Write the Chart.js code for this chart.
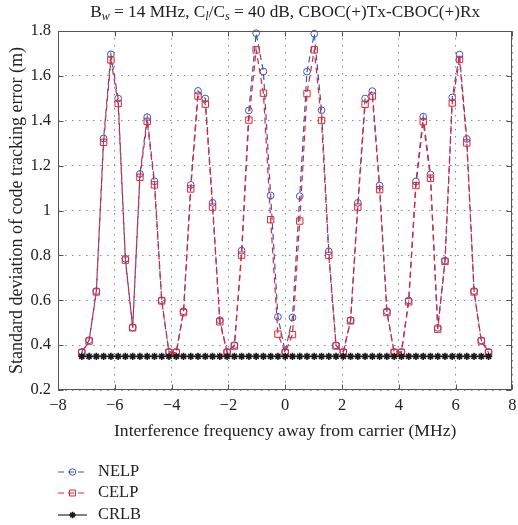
<!DOCTYPE html>
<html>
<head>
<meta charset="utf-8">
<script src="https://cdn.jsdelivr.net/npm/chart.js@4.4.0/dist/chart.umd.min.js"></script>
<style>
html,body{margin:0;padding:0;background:#fff}
</style>
</head>
<body>
<canvas id="chart" width="518" height="525"></canvas>
<script>

/* DATA */

const freqMHz=[-7.161,-6.905,-6.650,-6.394,-6.138,-5.882,-5.627,-5.371,-5.115,-4.859,-4.604,-4.348,-4.092,-3.836,-3.581,-3.325,-3.069,-2.813,-2.558,-2.302,-2.046,-1.790,-1.535,-1.279,-1.023,-0.767,-0.512,-0.256,0,
0.256,0.512,0.767,1.023,1.279,1.535,1.790,2.046,2.302,2.558,2.813,3.069,3.325,3.581,3.836,4.092,4.348,4.604,4.859,5.115,5.371,5.627,5.882,6.138,6.394,6.650,6.905,7.161]

const nelp=[0.370,0.422,0.641,1.321,1.696,1.499,0.785,0.479,1.163,1.416,1.130,0.600,0.370,0.370,0.551,1.114,1.533,1.499,1.034,0.511,0.370,0.400,0.821,1.446,1.790,1.619,1.067,0.526,0.370,
0.523,1.064,1.619,1.788,1.447,0.818,0.399,0.370,0.511,1.034,1.499,1.532,1.111,0.551,0.370,0.370,0.599,1.129,1.418,1.161,0.477,0.776,1.504,1.695,1.319,0.641,0.421,0.370]

const celp=[0.366,0.418,0.637,1.304,1.671,1.477,0.779,0.477,1.148,1.397,1.114,0.597,0.367,0.367,0.545,1.096,1.510,1.474,1.015,0.504,0.367,0.396,0.801,1.403,1.716,1.523,0.959,0.449,0.366,
0.447,0.953,1.521,1.716,1.401,0.800,0.396,0.367,0.508,1.015,1.473,1.510,1.093,0.545,0.367,0.367,0.593,1.111,1.396,1.144,0.471,0.773,1.479,1.673,1.301,0.637,0.418,0.366]

const crlb=[0.35,0.35,0.35,0.35,0.35,0.35,0.35,0.35,0.35,0.35,0.35,0.35,0.35,0.35,0.35,0.35,0.35,0.35,0.35,0.35,0.35,0.35,0.35,0.35,0.35,0.35,0.35,0.35,0.35,
0.35,0.35,0.35,0.35,0.35,0.35,0.35,0.35,0.35,0.35,0.35,0.35,0.35,0.35,0.35,0.35,0.35,0.35,0.35,0.35,0.35,0.35,0.35,0.35,0.35,0.35,0.35,0.35]

const xTicks=[-8,-6,-4,-2,0,2,4,6,8]
const yTicks=[0.2,0.4,0.6,0.8,1,1.2,1.4,1.6,1.8]
const yLabels=["0.2","0.4","0.6","0.8","1","1.2","1.4","1.6","1.8"]

const seriesNames=["NELP","CELP","CRLB"]

const FONT="'Liberation Serif','DejaVu Serif',serif"
const TXT="#222"

function pts(vals){
return freqMHz.map((f,i)=>({x:f,y:vals[i]}))
}


/* TITLE with subscripts */

const titlePlugin={
id:"titleSub",
afterDraw(chart){
const ctx=chart.ctx
const a=chart.chartArea
const parts=[
{t:"B"},{t:"w",sub:true},{t:" = 14 MHz, C"},{t:"l",sub:true},{t:"/C"},{t:"s",sub:true},
{t:" = 40 dB, CBOC(+)Tx-CBOC(+)Rx"}
]
ctx.save()
ctx.fillStyle=TXT
ctx.textBaseline="alphabetic"
let w=0
parts.forEach(p=>{
ctx.font=p.sub?"italic 12px "+FONT:"17.3px "+FONT
p.w=ctx.measureText(p.t).width
w+=p.w
})
let x=(a.left+a.right)/2-w/2
const base=17
parts.forEach(p=>{
ctx.font=p.sub?"italic 12px "+FONT:"17.3px "+FONT
ctx.fillText(p.t,x,p.sub?base+3:base)
x+=p.w
})
ctx.restore()
}
}


/* FRAME + inward ticks */

const framePlugin={
id:"frame",
afterDatasetsDraw(chart){
const ctx=chart.ctx
const a=chart.chartArea
const sx=chart.scales.x
const sy=chart.scales.y
ctx.save()
ctx.strokeStyle="#555"
ctx.lineWidth=1
const l=Math.round(a.left)+0.5, r=Math.round(a.right)-0.5
const t=Math.round(a.top)+0.5, b=Math.round(a.bottom)-0.5
ctx.strokeRect(l,t,r-l,b-t)
ctx.beginPath()
xTicks.forEach(v=>{
const px=Math.round(sx.getPixelForValue(v))+0.5
ctx.moveTo(px,b);ctx.lineTo(px,b-5)
ctx.moveTo(px,t);ctx.lineTo(px,t+5)
})
yTicks.forEach(v=>{
const py=Math.round(sy.getPixelForValue(v))+0.5
ctx.moveTo(l,py);ctx.lineTo(l+5,py)
ctx.moveTo(r,py);ctx.lineTo(r-5,py)
})
ctx.stroke()
ctx.restore()
}
}


/* LEGEND (vertical, bottom left) */

function marker(ctx,style,x,y,r){
ctx.beginPath()
if(style==="circle"){
ctx.arc(x,y,r,0,Math.PI*2)
}else if(style==="rect"){
const s=r*Math.SQRT1_2
ctx.rect(x-s,y-s,2*s,2*s)
}else{
for(let k=0;k<4;k++){
const ang=k*Math.PI/4
ctx.moveTo(x-Math.cos(ang)*r,y-Math.sin(ang)*r)
ctx.lineTo(x+Math.cos(ang)*r,y+Math.sin(ang)*r)
}
}
ctx.stroke()
}

const legendPlugin={
id:"legendList",
afterDraw(chart){
const ctx=chart.ctx
const rows=[472,493,515]
ctx.save()
chart.data.datasets.forEach((ds,i)=>{
const y=rows[i]
ctx.strokeStyle=ds.borderColor
ctx.lineWidth=1.1
ctx.setLineDash(ds.borderDash||[])
ctx.beginPath()
ctx.moveTo(58,y);ctx.lineTo(87,y)
ctx.stroke()
ctx.setLineDash([])
ctx.lineWidth=ds.pointBorderWidth
marker(ctx,ds.pointStyle,72.5,y,ds.pointStyle==="rect"?4.2:3.2)
ctx.fillStyle=TXT
ctx.font="16.5px "+FONT
ctx.textBaseline="middle"
ctx.fillText(ds.label,98,y)
})
ctx.restore()
}
}


/* CHART */

const ctx=document.getElementById("chart").getContext("2d")

new Chart(ctx,{
type:"line",
data:{
datasets:[
{
label:seriesNames[0],
data:pts(nelp),
borderColor:"#3c55c0",
backgroundColor:"rgba(0,0,0,0)",
borderWidth:1.2,
borderDash:[6,4],
pointStyle:"circle",
pointRadius:3.4,
pointBorderWidth:1,
pointBackgroundColor:"rgba(0,0,0,0)",
tension:0,
clip:false,
order:2
},
{
label:seriesNames[1],
data:pts(celp),
borderColor:"#e8242c",
backgroundColor:"rgba(0,0,0,0)",
borderWidth:1.2,
borderDash:[6,4],
borderDashOffset:5,
pointStyle:"rect",
pointRadius:4.5,
pointBorderWidth:1,
pointBackgroundColor:"rgba(0,0,0,0)",
tension:0,
clip:false,
order:1
},
{
label:seriesNames[2],
data:pts(crlb),
borderColor:"#1a1a1a",
backgroundColor:"#1a1a1a",
borderWidth:1.3,
pointStyle:"star",
pointRadius:3.6,
pointBorderWidth:1.6,
tension:0,
clip:false,
order:0
}
]
},
options:{
responsive:false,
animation:false,
devicePixelRatio:1,
layout:{padding:{top:31,right:3,bottom:83,left:0}},
plugins:{legend:{display:false},tooltip:{enabled:false}},
scales:{
x:{
type:"linear",
min:-8,max:8,
afterBuildTicks:s=>{s.ticks=xTicks.map(v=>({value:v}))},
afterFit:s=>{s.height=52;s.paddingLeft=0;s.paddingRight=0},
grid:{color:"#8a8a8a",lineWidth:1,drawTicks:false},
border:{display:false,dash:[1.5,5.5]},
ticks:{padding:6,color:TXT,font:{family:FONT,size:16.5},maxRotation:0,
callback:v=>String(v).replace("-","\u2212")},
title:{display:true,text:"Interference frequency away from carrier (MHz)",color:TXT,
font:{family:FONT,size:17.6},padding:{top:0,bottom:0}}
},
y:{
min:0.2,max:1.8,
afterBuildTicks:s=>{s.ticks=yTicks.map(v=>({value:v}))},
afterFit:s=>{s.width=58;s.paddingTop=0;s.paddingBottom=0},
grid:{color:"#8a8a8a",lineWidth:1,drawTicks:false},
border:{display:false,dash:[1.5,5.5]},
ticks:{padding:7,color:TXT,font:{family:FONT,size:16.5},
callback:(v,i)=>yLabels[i]},
title:{display:true,text:"Standard deviation of code tracking error (m)",color:TXT,
font:{family:FONT,size:18},padding:{top:6,bottom:0}}
}
}
},
plugins:[titlePlugin,framePlugin,legendPlugin]
})

</script>
</body>
</html>
